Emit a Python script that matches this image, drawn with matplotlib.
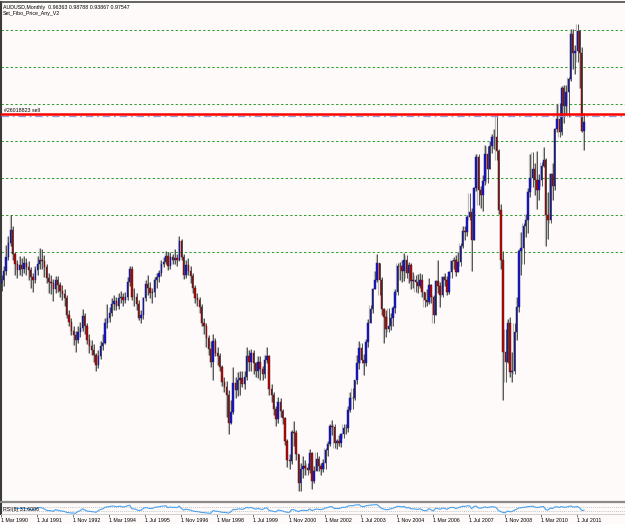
import matplotlib.pyplot as plt
import numpy as np

# monthly AUDUSD bars, Mar 1990 .. Oct 2011
first_open = 0.758
closes = [
    0.762, 0.775, 0.793, 0.813, 0.830, 0.798, 0.784, 0.776, 0.783, 0.778,                  # 1990 (Mar-Dec)
    0.786, 0.780, 0.776, 0.766, 0.762, 0.776, 0.784, 0.790, 0.788, 0.780, 0.765, 0.760,    # 1991
    0.758, 0.750, 0.762, 0.756, 0.748, 0.744, 0.738, 0.716, 0.706, 0.694, 0.688, 0.682,    # 1992
    0.692, 0.698, 0.714, 0.700, 0.682, 0.674, 0.668, 0.662, 0.648, 0.660, 0.674, 0.678,    # 1993
    0.704, 0.712, 0.718, 0.730, 0.734, 0.728, 0.738, 0.740, 0.736, 0.740, 0.760, 0.777,    # 1994
    0.740, 0.740, 0.730, 0.712, 0.716, 0.738, 0.757, 0.752, 0.745, 0.746, 0.762, 0.766,    # 1995
    0.772, 0.784, 0.787, 0.795, 0.782, 0.794, 0.790, 0.792, 0.790, 0.815, 0.794, 0.770,    # 1996
    0.783, 0.775, 0.768, 0.752, 0.738, 0.735, 0.726, 0.704, 0.700, 0.684, 0.670, 0.652,    # 1997
    0.680, 0.664, 0.660, 0.645, 0.625, 0.618, 0.608, 0.570, 0.585, 0.624, 0.614, 0.628,    # 1998
    0.630, 0.622, 0.632, 0.660, 0.652, 0.664, 0.650, 0.640, 0.652, 0.642, 0.636, 0.655,    # 1999
    0.660, 0.615, 0.608, 0.588, 0.575, 0.598, 0.586, 0.576, 0.545, 0.520, 0.518, 0.558,    # 2000
    0.556, 0.528, 0.488, 0.508, 0.512, 0.509, 0.506, 0.529, 0.491, 0.505, 0.521, 0.511,    # 2001
    0.507, 0.515, 0.533, 0.541, 0.565, 0.564, 0.542, 0.545, 0.543, 0.555, 0.563, 0.563,    # 2002
    0.587, 0.604, 0.603, 0.627, 0.651, 0.671, 0.654, 0.651, 0.679, 0.705, 0.724, 0.751,    # 2003
    0.763, 0.785, 0.762, 0.723, 0.713, 0.696, 0.700, 0.712, 0.725, 0.746, 0.782, 0.781,    # 2004
    0.775, 0.790, 0.772, 0.783, 0.761, 0.763, 0.760, 0.755, 0.763, 0.747, 0.735, 0.733,    # 2005
    0.756, 0.740, 0.716, 0.761, 0.755, 0.742, 0.767, 0.763, 0.746, 0.774, 0.788, 0.789,    # 2006
    0.774, 0.787, 0.808, 0.829, 0.828, 0.848, 0.855, 0.817, 0.887, 0.929, 0.884, 0.877,    # 2007
    0.896, 0.932, 0.913, 0.944, 0.956, 0.956, 0.937, 0.857, 0.789, 0.665, 0.652, 0.704,    # 2008
    0.638, 0.640, 0.692, 0.726, 0.802, 0.806, 0.835, 0.843, 0.882, 0.900, 0.913, 0.898,    # 2009
    0.884, 0.897, 0.917, 0.924, 0.850, 0.843, 0.905, 0.889, 0.967, 0.980, 0.963, 1.022,    # 2010
    0.998, 1.017, 1.034, 1.095, 1.069, 1.072, 1.098, 1.069, 0.9636, 0.97547,               # 2011 (Jan-Oct)
]
highs = [
    0.770, 0.782, 0.810, 0.822, 0.850, 0.836, 0.800, 0.790, 0.795, 0.792,
    0.795, 0.792, 0.788, 0.780, 0.772, 0.782, 0.795, 0.806, 0.804, 0.796, 0.784, 0.772,
    0.770, 0.764, 0.768, 0.768, 0.760, 0.756, 0.750, 0.742, 0.722, 0.712, 0.700, 0.694,
    0.700, 0.706, 0.724, 0.718, 0.704, 0.690, 0.682, 0.676, 0.664, 0.668, 0.680, 0.690,
    0.712, 0.730, 0.726, 0.738, 0.742, 0.740, 0.745, 0.748, 0.745, 0.746, 0.766, 0.781,
    0.782, 0.752, 0.745, 0.735, 0.722, 0.740, 0.762, 0.770, 0.760, 0.752, 0.766, 0.772,
    0.776, 0.790, 0.793, 0.802, 0.800, 0.800, 0.798, 0.804, 0.798, 0.822, 0.818, 0.798,
    0.790, 0.792, 0.782, 0.772, 0.756, 0.745, 0.740, 0.730, 0.712, 0.704, 0.688, 0.680,
    0.690, 0.684, 0.672, 0.664, 0.648, 0.632, 0.626, 0.614, 0.600, 0.645, 0.632, 0.638,
    0.640, 0.640, 0.640, 0.672, 0.668, 0.670, 0.668, 0.652, 0.660, 0.660, 0.646, 0.662,
    0.672, 0.662, 0.622, 0.612, 0.592, 0.605, 0.604, 0.588, 0.578, 0.548, 0.528, 0.560,
    0.572, 0.560, 0.528, 0.515, 0.525, 0.520, 0.515, 0.535, 0.530, 0.512, 0.530, 0.525,
    0.516, 0.521, 0.536, 0.545, 0.568, 0.574, 0.568, 0.548, 0.553, 0.556, 0.568, 0.568,
    0.592, 0.612, 0.617, 0.628, 0.662, 0.680, 0.678, 0.663, 0.683, 0.710, 0.729, 0.752,
    0.775, 0.798, 0.786, 0.767, 0.725, 0.722, 0.725, 0.718, 0.728, 0.750, 0.785, 0.787,
    0.789, 0.799, 0.797, 0.787, 0.786, 0.774, 0.770, 0.771, 0.772, 0.771, 0.745, 0.751,
    0.765, 0.757, 0.742, 0.762, 0.790, 0.760, 0.768, 0.772, 0.768, 0.775, 0.790, 0.793,
    0.796, 0.800, 0.812, 0.835, 0.835, 0.850, 0.880, 0.860, 0.888, 0.932, 0.933, 0.890,
    0.904, 0.945, 0.943, 0.950, 0.960, 0.966, 0.985, 0.940, 0.865, 0.802, 0.697, 0.710,
    0.713, 0.665, 0.705, 0.740, 0.805, 0.828, 0.840, 0.852, 0.887, 0.933, 0.936, 0.921,
    0.937, 0.906, 0.922, 0.942, 0.927, 0.882, 0.907, 0.920, 0.968, 1.000, 1.002, 1.025,
    1.026, 1.026, 1.036, 1.101, 1.101, 1.080, 1.108, 1.100, 1.077, 0.98788,
]
lows = [
    0.748, 0.755, 0.770, 0.790, 0.808, 0.790, 0.770, 0.765, 0.770, 0.768,
    0.772, 0.770, 0.762, 0.752, 0.747, 0.758, 0.770, 0.778, 0.778, 0.766, 0.758, 0.745,
    0.744, 0.734, 0.745, 0.746, 0.740, 0.735, 0.728, 0.712, 0.700, 0.688, 0.675, 0.665,
    0.678, 0.686, 0.694, 0.690, 0.676, 0.664, 0.661, 0.652, 0.640, 0.644, 0.656, 0.668,
    0.676, 0.698, 0.706, 0.714, 0.722, 0.722, 0.724, 0.732, 0.728, 0.732, 0.736, 0.755,
    0.736, 0.728, 0.722, 0.708, 0.705, 0.710, 0.734, 0.742, 0.738, 0.732, 0.740, 0.752,
    0.760, 0.768, 0.780, 0.784, 0.776, 0.778, 0.784, 0.784, 0.782, 0.788, 0.790, 0.764,
    0.765, 0.770, 0.758, 0.745, 0.732, 0.728, 0.718, 0.700, 0.690, 0.672, 0.662, 0.645,
    0.628, 0.660, 0.648, 0.640, 0.620, 0.612, 0.578, 0.555, 0.568, 0.582, 0.604, 0.606,
    0.608, 0.618, 0.616, 0.628, 0.640, 0.640, 0.636, 0.632, 0.630, 0.628, 0.628, 0.630,
    0.650, 0.608, 0.598, 0.580, 0.566, 0.570, 0.578, 0.568, 0.540, 0.510, 0.507, 0.514,
    0.538, 0.520, 0.478, 0.4775, 0.496, 0.500, 0.499, 0.502, 0.480, 0.488, 0.505, 0.505,
    0.500, 0.504, 0.508, 0.525, 0.538, 0.553, 0.536, 0.535, 0.538, 0.537, 0.550, 0.555,
    0.558, 0.585, 0.588, 0.600, 0.622, 0.643, 0.650, 0.635, 0.646, 0.672, 0.705, 0.718,
    0.750, 0.760, 0.742, 0.716, 0.678, 0.686, 0.693, 0.695, 0.700, 0.718, 0.742, 0.762,
    0.760, 0.761, 0.765, 0.758, 0.750, 0.752, 0.746, 0.745, 0.752, 0.740, 0.726, 0.728,
    0.730, 0.732, 0.704, 0.715, 0.745, 0.726, 0.740, 0.755, 0.743, 0.744, 0.765, 0.778,
    0.768, 0.773, 0.781, 0.806, 0.817, 0.822, 0.844, 0.775, 0.818, 0.883, 0.864, 0.860,
    0.856, 0.891, 0.893, 0.912, 0.934, 0.940, 0.924, 0.852, 0.777, 0.601, 0.625, 0.651,
    0.632, 0.625, 0.636, 0.682, 0.720, 0.770, 0.784, 0.820, 0.826, 0.875, 0.888, 0.878,
    0.858, 0.870, 0.889, 0.915, 0.808, 0.818, 0.840, 0.870, 0.884, 0.963, 0.955, 0.958,
    0.975, 0.985, 0.983, 1.031, 1.048, 1.041, 1.057, 1.022, 0.963, 0.93867,
]

fibo_levels = [0.80, 0.85, 0.90, 0.95, 1.00, 1.05, 1.10]
order_price = 0.9866
order_label = "#26018823 sell"
stop_price = 0.9843

date_ticks = [0, 16, 32, 48, 64, 80, 96, 112, 128, 144, 160, 176, 192, 208, 224, 240, 256]
date_labels = ["1 Mar 1990", "1 Jul 1991", "1 Nov 1992", "1 Mar 1994", "1 Jul 1995",
               "1 Nov 1996", "1 Mar 1998", "1 Jul 1999", "1 Nov 2000", "1 Mar 2002",
               "1 Jul 2003", "1 Nov 2004", "1 Mar 2006", "1 Jul 2007", "1 Nov 2008",
               "1 Mar 2010", "1 Jul 2011"]

header = "AUDUSD,Monthly  0.96363 0.98788 0.93867 0.97547"
indicator = "Set_Fibo_Price_Any_V2"
rsi_period = 6
rsi_label = "RSI(6) 31.6006"

BG = "#fffafa"
plt.rcParams["font.family"] = ["Liberation Sans", "DejaVu Sans"]

c = np.array(closes)
o = np.r_[first_open, c[:-1]]
h = np.maximum(np.array(highs), np.maximum(o, c))
l = np.minimum(np.array(lows), np.minimum(o, c))
idx = np.arange(len(c))
up = c >= o

# RSI (Wilder smoothing) on the closes, like the terminal's indicator
d = np.diff(c)
gain = np.clip(d, 0, None)
loss = np.clip(-d, 0, None)
rsi = np.full(len(c), np.nan)
ag = gain[:rsi_period].mean()
al = loss[:rsi_period].mean()
rsi[rsi_period] = 100 - 100 / (1 + ag / al)
for k in range(rsi_period, len(d)):
    ag = (ag * (rsi_period - 1) + gain[k]) / rsi_period
    al = (al * (rsi_period - 1) + loss[k]) / rsi_period
    rsi[k + 1] = 100 - 100 / (1 + ag / al)

W, H = 625, 524
fig = plt.figure(figsize=(W / 100, H / 100), dpi=100, facecolor=BG)
xlim = (-0.22, 277.2)

# main price window: pixel rows 2..502
ax = fig.add_axes([1 / W, 22 / H, 624 / W, 500 / H], facecolor=BG)
ax.set_xlim(xlim)
ax.set_ylim(0.4630, 1.1378)
ax.set_xticks([])
ax.set_yticks([])
ax.spines["right"].set_visible(False)
ax.spines["left"].set_color("#3a3a3a")
ax.spines["left"].set_linewidth(1.5)
ax.spines["top"].set_color("#4a4a4a")
ax.spines["top"].set_linewidth(1.2)
ax.spines["bottom"].set_color("#8a8a8a")
ax.spines["bottom"].set_linewidth(1.6)

for lv in fibo_levels:
    ax.axhline(lv, color="#2e9e2e", lw=0.75, ls=(0, (2.2, 2.2)), zorder=1)

# candles: grey shadow, dark wick, coloured body
ax.vlines(idx - 0.4, l, h, color="#bcbcbc", lw=0.9, zorder=2)
ax.vlines(idx + 0.1, l, h, color="#2a2a2a", lw=0.55, zorder=3)
body_col = np.where(up, "#1414d2", "#b40a0a")
edge_col = np.where(up, "#1c1c60", "#4a1010")
ax.bar(idx, np.abs(c - o), bottom=np.minimum(o, c), width=0.6,
       color=body_col, edgecolor=edge_col, linewidth=0.3, zorder=4)

ax.axhline(stop_price, color="#8c9ae0", lw=0.9, ls=(0, (6, 3, 1.5, 3)), zorder=5)
ax.axhline(order_price, color="#ff0000", lw=1.8, zorder=6)
ax.text(1.0, order_price + 0.002, order_label, fontsize=3.8, color="black",
        va="bottom", ha="left", zorder=7)

ax.text(0.0035, 1 - 3 / 500, header, transform=ax.transAxes,
        fontsize=3.8, va="top", ha="left")
ax.text(0.0035, 1 - 8.5 / 500, indicator, transform=ax.transAxes,
        fontsize=3.8, va="top", ha="left")

# RSI sub-window: pixel rows 504..514
ax2 = fig.add_axes([1 / W, 10 / H, 624 / W, 10 / H], facecolor=BG)
ax2.set_xlim(xlim)
ax2.set_ylim(0, 100)
ax2.set_yticks([])
for s in ["right", "top"]:
    ax2.spines[s].set_visible(False)
ax2.spines["left"].set_color("#3a3a3a")
ax2.spines["left"].set_linewidth(1.5)
ax2.spines["bottom"].set_color("#c8c8c8")
ax2.spines["bottom"].set_linewidth(0.6)
for lv in [30, 70]:
    ax2.axhline(lv, color="#b0b0b0", lw=0.6, ls=(0, (1, 1.5)))
ax2.plot(idx, rsi, color="#4aa3f0", lw=0.8)
ax2.text(0.0035, 0.5, rsi_label, transform=ax2.transAxes, fontsize=3.8,
         va="center", ha="left")

ax2.set_xticks(date_ticks)
ax2.set_xticklabels(date_labels, fontsize=3.8, ha="left")
ax2.tick_params(axis="x", length=2.2, width=0.5, color="#444444", pad=0.6)

fig.savefig("out.png", dpi=100, facecolor=BG)
